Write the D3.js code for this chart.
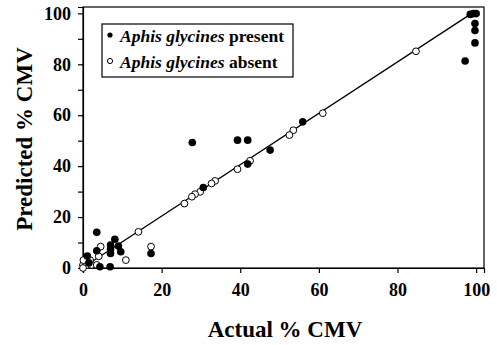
<!DOCTYPE html>
<html><head><meta charset="utf-8">
<script src="https://cdn.jsdelivr.net/npm/d3@7"></script>
<style>body{margin:0;background:#fff}svg{display:block}
svg text{font-family:"Liberation Serif","Times New Roman","DejaVu Serif",serif;font-weight:bold}</style>
</head><body>
<svg id="c" width="497" height="345"></svg>
<script>
// Aphis glycines present (filled)
const presentX = [3.5, 8.1, 7.0, 7.0, 7.0, 9.0, 9.6, 3.5, 1.1, 4.3, 6.9, 17.3, 27.8, 39.3, 41.9, 47.6, 55.9, 41.9, 30.6, 97.2, 99.7, 99.7, 99.7, 98.5, 99.3, 100, 1.5];
const presentY = [14.0, 11.3, 9.0, 7.3, 5.7, 8.6, 6.4, 6.8, 4.7, 0.5, 0.5, 5.7, 49.3, 50.2, 50.2, 46.3, 57.4, 40.8, 31.6, 81.3, 88.4, 93.3, 96.0, 99.6, 99.9, 99.9, 2.0];
// Aphis glycines absent (open)
const absentX = [14.1, 25.8, 17.3, 10.9, 4.5, 53.5, 52.5, 42.5, 39.3, 33.6, 32.7, 29.8, 28.5, 27.7, 84.7, 61.0, 0.0, 1.0, 2.2, 3.5, 0.1, 1.8, 0.0, 4.0];
const absentY = [14.2, 25.3, 8.4, 3.1, 8.4, 54.1, 52.2, 42.1, 38.8, 34.2, 33.2, 29.9, 29.0, 28.0, 85.1, 60.8, 1.2, 1.2, 1.2, 1.2, 3.1, 3.1, 0.0, 4.6];
// fitted line endpoints
const lineX = [0, 98.5];
const lineY = [0.2, 99.6];
const xTicks = [0, 20, 40, 60, 80, 100];
const yTicks = [0, 10, 20, 30, 40, 50, 60, 70, 80, 90, 100];
const yLabels = [0, 20, 40, 60, 80, 100];

const svg = d3.select('#c');
const L = 83, R = 484, T = 7, B = 268;
const x = d3.scaleLinear().domain([0, 102]).range([L, R]);
const y = d3.scaleLinear().domain([0, 102.5]).range([B, T]);
const font = '"Liberation Serif","Times New Roman","DejaVu Serif",serif';

// frame
svg.append('rect').attr('x', L).attr('y', T).attr('width', R - L).attr('height', B - T)
  .attr('fill', 'none').attr('stroke', '#000').attr('stroke-width', 1.2);

const xa = svg.append('g').attr('transform', `translate(0,${B})`)
  .call(d3.axisBottom(x).tickValues(xTicks).tickSize(5).tickPadding(10).tickFormat(d3.format('d')));
const ya = svg.append('g').attr('transform', `translate(${L},0)`)
  .call(d3.axisLeft(y).tickValues(yTicks).tickSize(5).tickPadding(7)
    .tickFormat(d => yLabels.includes(d) ? d : ''));
[xa, ya].forEach(a => {
  a.attr('font-family', null).attr('font-size', null);
  a.select('.domain').attr('stroke', '#000').attr('stroke-width', 1.2);
  a.selectAll('line').attr('stroke', '#000').attr('stroke-width', 1.2);
  a.selectAll('text').style('font-family', font).style('font-weight', 'bold').style('font-size', '18px').attr('fill', '#000');
});

// line
svg.append('line').attr('x1', x(lineX[0])).attr('y1', y(lineY[0]))
  .attr('x2', x(lineX[1])).attr('y2', y(lineY[1]))
  .attr('stroke', '#000').attr('stroke-width', 1.3);

// points
const absent = absentX.map((v, i) => [v, absentY[i]]);
const present = presentX.map((v, i) => [v, presentY[i]]);
svg.append('g').selectAll('circle').data(absent).join('circle')
  .attr('cx', d => x(d[0])).attr('cy', d => y(d[1])).attr('r', 3.4)
  .attr('fill', '#fff').attr('stroke', '#000').attr('stroke-width', 1);
svg.append('g').selectAll('circle').data(present).join('circle')
  .attr('cx', d => x(d[0])).attr('cy', d => y(d[1])).attr('r', 3.8)
  .attr('fill', '#000');

// legend
const lg = svg.append('g');
lg.append('rect').attr('x', 102).attr('y', 24).attr('width', 191).attr('height', 53)
  .attr('fill', '#fff').attr('stroke', '#000').attr('stroke-width', 1.2);
lg.append('circle').attr('cx', 110).attr('cy', 35).attr('r', 2.6).attr('fill', '#000');
lg.append('circle').attr('cx', 110).attr('cy', 61).attr('r', 2.6).attr('fill', '#fff').attr('stroke', '#000').attr('stroke-width', 1);
const t1 = lg.append('text').attr('x', 120).attr('y', 42).style('font-size', '17.5px');
t1.append('tspan').style('font-style', 'italic').text('Aphis glycines');
t1.append('tspan').text(' present');
const t2 = lg.append('text').attr('x', 120).attr('y', 68).style('font-size', '17.5px');
t2.append('tspan').style('font-style', 'italic').text('Aphis glycines');
t2.append('tspan').text(' absent');

// titles
svg.append('text').attr('x', 285).attr('y', 337).attr('text-anchor', 'middle')
  .style('font-size', '23px').text('Actual % CMV');
svg.append('text').attr('transform', 'translate(32,139) rotate(-90)').attr('text-anchor', 'middle')
  .style('font-size', '23px').text('Predicted % CMV');
</script>
</body></html>
